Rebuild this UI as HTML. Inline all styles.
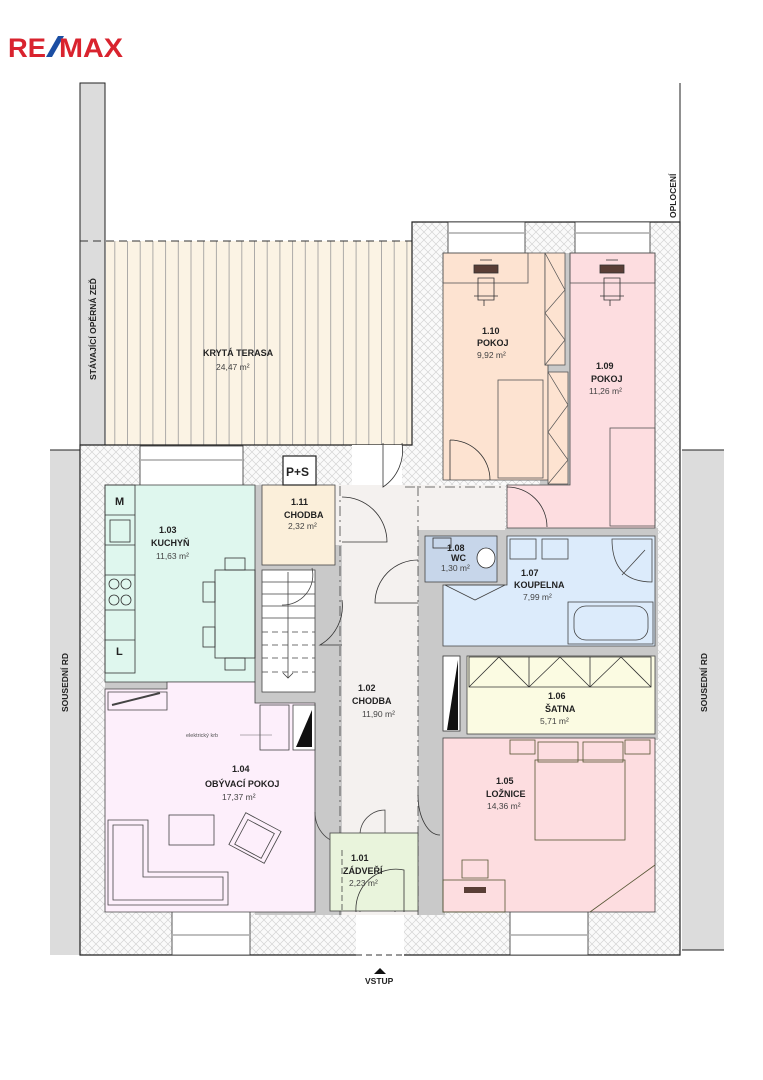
<!DOCTYPE html>
<html><head><meta charset="utf-8"><style>
html,body{margin:0;padding:0;background:#fff}
svg{display:block}
text{font-family:"Liberation Sans",sans-serif;fill:#222}
.b{font-weight:bold;font-size:9px}
.a{font-size:8.5px;fill:#444}
</style></head><body>
<svg width="763" height="1080" viewBox="0 0 763 1080" xmlns="http://www.w3.org/2000/svg">
<defs>
<pattern id="h" width="8" height="8" patternUnits="userSpaceOnUse">
<rect width="8" height="8" fill="#fafafa"/>
<path d="M0 0L8 8M8 0L0 8" stroke="#d4d4d4" stroke-width="0.7"/>
</pattern>
<pattern id="t" width="12.7" height="10" patternUnits="userSpaceOnUse">
<rect width="12.7" height="10" fill="#fbf3e4"/>
<line x1="0.5" y1="0" x2="0.5" y2="10" stroke="#999" stroke-width="0.8"/>
</pattern>
</defs>

<!-- logo -->
<text x="8" y="57" textLength="38" lengthAdjust="spacingAndGlyphs" style="font-weight:bold;font-size:27px;fill:#d9232e">RE</text>
<path d="M46 57 L58 36 H64 L52 57 Z" fill="#1b4ea3"/>
<text x="59" y="57" textLength="64" lengthAdjust="spacingAndGlyphs" style="font-weight:bold;font-size:27px;fill:#d9232e">MAX</text>

<!-- retaining wall -->
<rect x="80" y="83" width="25" height="362" fill="#dcdcdc" stroke="#222" stroke-width="1"/>
<text class="b" transform="translate(96,380) rotate(-90)" style="font-size:8.5px">STÁVAJÍCÍ OPĚRNÁ ZEĎ</text>
<!-- terrace -->
<rect x="106" y="241" width="306" height="204" fill="url(#t)"/>
<line x1="80" y1="241" x2="412" y2="241" stroke="#333" stroke-dasharray="8,5"/>
<text class="b" x="203" y="356">KRYTÁ TERASA</text>
<text class="a" x="216" y="370">24,47 m²</text>

<!-- oploceni -->
<line x1="680" y1="83" x2="680" y2="250" stroke="#222"/>
<text class="b" transform="translate(676,218) rotate(-90)" style="font-size:8.5px">OPLOCENÍ</text>

<!-- neighbours -->
<rect x="50" y="450" width="30" height="505" fill="#dcdcdc"/>
<line x1="50" y1="450" x2="80" y2="450" stroke="#222"/>
<text class="b" transform="translate(68,712) rotate(-90)" style="font-size:8.5px">SOUSEDNÍ RD</text>
<rect x="682" y="450" width="42" height="500" fill="#dcdcdc"/>
<line x1="682" y1="450" x2="724" y2="450" stroke="#222"/>
<line x1="682" y1="950" x2="724" y2="950" stroke="#222"/>
<text class="b" transform="translate(707,712) rotate(-90)" style="font-size:8.5px">SOUSEDNÍ RD</text>

<!-- building walls base (hatched) -->
<path d="M80 445 H412 V222 H680 V955 H80 Z" fill="url(#h)" stroke="#222" stroke-width="1.2"/>
<rect x="255" y="485" width="190" height="430" fill="#c9c9c9"/>
<rect x="418" y="528" width="240" height="130" fill="#c9c9c9"/>
<rect x="440" y="645" width="218" height="95" fill="#c9c9c9"/>
<rect x="540" y="253" width="32" height="280" fill="#c9c9c9"/>
<rect x="105" y="673" width="62" height="16" fill="#c9c9c9"/>

<!-- windows -->
<g stroke="#333" stroke-width="0.8">
<rect x="140" y="446" width="103" height="40" fill="#fff"/>
<line x1="141" y1="460" x2="242" y2="460" stroke="#999" stroke-width="1.2"/>
<rect x="172" y="911" width="78" height="44" fill="#fff"/>
<line x1="173" y1="935" x2="249" y2="935" stroke="#999" stroke-width="1.2"/>
<rect x="510" y="911" width="78" height="44" fill="#fff"/>
<line x1="511" y1="935" x2="587" y2="935" stroke="#999" stroke-width="1.2"/>
<rect x="448" y="222" width="77" height="32" fill="#fff"/>
<line x1="449" y1="233" x2="524" y2="233" stroke="#999" stroke-width="1.2"/>
<rect x="575" y="222" width="75" height="32" fill="#fff"/>
<line x1="576" y1="233" x2="649" y2="233" stroke="#999" stroke-width="1.2"/>
</g>
<rect x="356" y="912" width="48" height="44" fill="#fff"/>
<line x1="356" y1="955" x2="404" y2="955" stroke="#333" stroke-dasharray="6,4"/>
<rect x="352" y="445" width="50" height="42" fill="#fff"/>

<!-- hallway 1.02 -->
<path d="M342 485 H505 V530 H418 V915 H342 Z" fill="#f4f1ef"/>
<rect x="318" y="485" width="24" height="60" fill="#f4f1ef"/>
<path d="M340 486 V915 M418 486 V915" stroke="#444" stroke-width="0.8" stroke-dasharray="10,4,2,4"/>
<text class="b" x="358" y="691">1.02</text>
<text class="b" x="352" y="704">CHODBA</text>
<text class="a" x="362" y="717">11,90 m²</text>

<!-- 1.10 -->
<path d="M443 253 H545 V365 H548 V480 H443 Z" fill="#fde3d1" stroke="#444" stroke-width="0.8"/>
<rect x="443" y="253" width="85" height="30" fill="none" stroke="#555" stroke-width="0.8"/>
<rect x="498" y="380" width="45" height="98" fill="none" stroke="#555" stroke-width="0.8"/>
<rect x="545" y="253" width="20" height="112" fill="#fde3d1" stroke="#555" stroke-width="0.8"/>
<path d="M545 253 L565 290 L545 313 L565 340 L545 365" fill="none" stroke="#555" stroke-width="0.7"/>
<text class="b" x="482" y="334">1.10</text>
<text class="b" x="477" y="346">POKOJ</text>
<text class="a" x="477" y="358">9,92 m²</text>
<!-- 1.09 -->
<path d="M570 253 H655 V528 H507 V485 H570 Z" fill="#fddde0" stroke="#444" stroke-width="0.8"/>
<rect x="570" y="253" width="85" height="30" fill="none" stroke="#555" stroke-width="0.8"/>
<rect x="610" y="428" width="45" height="98" fill="none" stroke="#555" stroke-width="0.8"/>
<rect x="548" y="372" width="20" height="112" fill="#fde3d1" stroke="#555" stroke-width="0.8"/>
<path d="M548 372 L568 405 L548 432 L568 460 L548 484" fill="none" stroke="#555" stroke-width="0.7"/>
<text class="b" x="596" y="369">1.09</text>
<text class="b" x="591" y="382">POKOJ</text>
<text class="a" x="589" y="394">11,26 m²</text>
<g fill="none" stroke="#333" stroke-width="0.8">
<rect x="474" y="265" width="24" height="8" fill="#5a3e36"/>
<rect x="600" y="265" width="24" height="8" fill="#5a3e36"/>
<path d="M478 278 H494 V300 H478 Z M474 296 H498 M484 300 V306"/>
<path d="M604 278 H620 V300 H604 Z M600 296 H624 M610 300 V306"/>
<path d="M480 260 H492 M606 260 H618"/>
</g>
<g fill="none" stroke="#333" stroke-width="0.8">
<path d="M450 440 A40 40 0 0 1 490 480 M450 440 V480"/>
<path d="M507 487 A40 40 0 0 1 547 527"/>
<path d="M383 443 V487 A44 44 0 0 0 402 443"/>
<path d="M342 497 A45 45 0 0 1 387 542 H342"/>
<path d="M418 560 A43 43 0 0 0 375 603 H418"/>
<path d="M342 600 A45 45 0 0 1 320 645 H342"/>
</g>
<path d="M405 487 H505" stroke="#444" stroke-width="0.8" stroke-dasharray="10,4,2,4"/>

<!-- 1.08 WC -->
<rect x="425" y="536" width="72" height="46" fill="#c7d6ea" stroke="#444" stroke-width="0.8"/>
<rect x="433" y="538" width="18" height="10" fill="none" stroke="#333" stroke-width="0.8"/>
<ellipse cx="486" cy="558" rx="9" ry="10" fill="#fff" stroke="#333" stroke-width="0.8"/>
<text class="b" x="447" y="551">1.08</text>
<text class="b" x="451" y="561">WC</text>
<text class="a" x="441" y="571">1,30 m²</text>
<!-- 1.07 -->
<path d="M507 536 H655 V646 H443 V585 H507 Z" fill="#dcebfb" stroke="#444" stroke-width="0.8"/>
<g fill="none" stroke="#444" stroke-width="0.8">
<rect x="510" y="539" width="26" height="20"/><rect x="542" y="539" width="26" height="20"/>
<path d="M612 539 H652 V582 Q612 582 612 539 Z M622 575 L645 550"/>
<rect x="568" y="602" width="85" height="42"/><rect x="574" y="606" width="74" height="34" rx="12"/>
<path d="M445 585 H505 L475 600 Z"/>
</g>
<text class="b" x="521" y="576">1.07</text>
<text class="b" x="514" y="588">KOUPELNA</text>
<text class="a" x="523" y="600">7,99 m²</text>

<!-- 1.06 satna -->
<rect x="467" y="656" width="188" height="78" fill="#fbfbe2" stroke="#444" stroke-width="0.8"/>
<path d="M469 687 V657 H651 V687 Z M529 657 V687 M590 657 V687 M469 687 L499 657 L529 687 L560 657 L590 687 L621 657 L651 687" fill="none" stroke="#333" stroke-width="0.8"/>
<rect x="443" y="656" width="17" height="75" fill="#fff" stroke="#333" stroke-width="0.8"/>
<path d="M447 730 L458 660 V730 Z" fill="#111"/>
<text class="b" x="548" y="699">1.06</text>
<text class="b" x="545" y="712">ŠATNA</text>
<text class="a" x="540" y="724">5,71 m²</text>
<!-- 1.05 -->
<rect x="443" y="738" width="212" height="174" fill="#fddde0" stroke="#444" stroke-width="0.8"/>
<g fill="none" stroke="#553" stroke-width="0.8">
<rect x="535" y="760" width="90" height="80"/>
<rect x="538" y="742" width="40" height="20"/><rect x="583" y="742" width="40" height="20"/>
<rect x="510" y="740" width="25" height="14"/><rect x="625" y="740" width="25" height="14"/>
<path d="M590 912 L655 865"/>
<rect x="443" y="880" width="62" height="32"/>
<path d="M462 860 H488 V878 H462 Z"/>
</g>
<rect x="464" y="887" width="22" height="6" fill="#5a3e36"/>
<path d="M418 795 A22 40 0 0 0 440 835" fill="none" stroke="#333" stroke-width="0.8"/>
<text class="b" x="496" y="784">1.05</text>
<text class="b" x="486" y="797">LOŽNICE</text>
<text class="a" x="487" y="809">14,36 m²</text>

<!-- 1.03 -->
<rect x="105" y="485" width="150" height="197" fill="#dff7ee" stroke="#444" stroke-width="0.8"/>
<g fill="none" stroke="#333" stroke-width="0.8">
<rect x="105" y="485" width="30" height="188"/>
<path d="M105 515 H135 M105 545 H135 M105 575 H135 M105 610 H135 M105 640 H135"/>
<rect x="110" y="520" width="20" height="22"/>
<circle cx="114" cy="584" r="5"/><circle cx="126" cy="584" r="5"/><circle cx="114" cy="600" r="5"/><circle cx="126" cy="600" r="5"/>
<rect x="215" y="570" width="40" height="88"/>
<rect x="225" y="558" width="20" height="12"/><rect x="225" y="658" width="20" height="12"/>
<rect x="203" y="582" width="12" height="20"/><rect x="203" y="627" width="12" height="20"/>
</g>
<text class="b" x="115" y="505" style="font-size:11px">M</text>
<text class="b" x="116" y="655" style="font-size:11px">L</text>
<text class="b" x="159" y="533">1.03</text>
<text class="b" x="151" y="546">KUCHYŇ</text>
<text class="a" x="156" y="559">11,63 m²</text>

<!-- 1.11 -->
<rect x="262" y="485" width="73" height="80" fill="#fbefda" stroke="#444" stroke-width="0.8"/>
<rect x="283" y="456" width="33" height="29" fill="#fff" stroke="#222" stroke-width="1.2"/>
<text class="b" x="286" y="476" style="font-size:12px">P+S</text>
<text class="b" x="291" y="505">1.11</text>
<text class="b" x="284" y="518">CHODBA</text>
<text class="a" x="288" y="529">2,32 m²</text>
<rect x="262" y="570" width="53" height="122" fill="#fff" stroke="#444" stroke-width="0.8"/>
<g stroke="#444" stroke-width="0.8" fill="none">
<path d="M262 582 H315 M262 594 H315 M262 606 H315 M262 618 H315"/>
<path d="M262 632 H315 M262 645 H315 M262 658 H315 M262 672 H315" stroke-dasharray="6,4"/>
<path d="M288 572 V678 M283 673 L288 678 L293 673"/>
<path d="M312 568 A30 30 0 0 1 282 605"/>
</g>

<!-- 1.04 -->
<path d="M105 689 H167 V682 H255 V703 H315 V912 H105 Z" fill="#fdeffb" stroke="#444" stroke-width="0.8"/>
<g fill="none" stroke="#444" stroke-width="0.8">
<rect x="260" y="705" width="29" height="45"/>
<rect x="293" y="705" width="22" height="45" fill="#fff"/>
<path d="M108 692 H167 V710 H108 Z"/>
<path d="M112 705 L160 693" stroke-width="2"/>
<path d="M108 820 H148 V872 H228 V905 H108 Z M113 825 H143 V877 H223 V900 H113 Z"/>
<rect x="169" y="815" width="45" height="30"/>
<g transform="translate(255,838) rotate(28)"><rect x="-20" y="-18" width="40" height="36"/><rect x="-15" y="-13" width="30" height="28"/></g>
<path d="M315 812 A25 30 0 0 0 340 842"/>
<path d="M360 835 A25 25 0 0 1 385 810 V835"/>
<path d="M360 912 A30 30 0 0 1 395 880 V912"/>
</g>
<path d="M296 747 L312 710 V747 Z" fill="#111"/>
<line x1="240" y1="735" x2="272" y2="735" stroke="#666" stroke-width="0.5"/>
<text x="186" y="737" style="font-size:5.5px;fill:#555">elektrický krb</text>
<text class="b" x="232" y="772">1.04</text>
<text class="b" x="205" y="787">OBÝVACÍ POKOJ</text>
<text class="a" x="222" y="800">17,37 m²</text>

<!-- 1.01 -->
<rect x="330" y="833" width="88" height="78" fill="#e9f4dc" stroke="#444" stroke-width="0.8"/>
<path d="M342 850 V912" stroke="#444" stroke-width="0.8" stroke-dasharray="6,3"/>
<path d="M356 912 A40 40 0 0 1 404 870 V912" fill="none" stroke="#333" stroke-width="0.8"/>
<text class="b" x="351" y="861">1.01</text>
<text class="b" x="343" y="874">ZÁDVEŘÍ</text>
<text class="a" x="349" y="886">2,23 m²</text>

<path d="M374 974 L380 968 L386 974 Z" fill="#111"/>
<text class="b" x="365" y="984" style="font-size:8.5px">VSTUP</text>
</svg>
</body></html>
